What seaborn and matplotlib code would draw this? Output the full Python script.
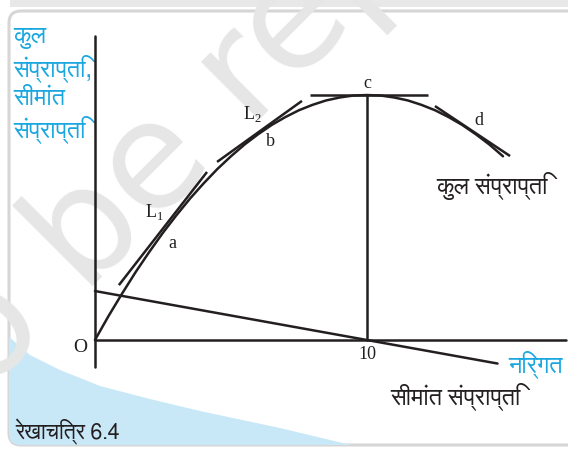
import matplotlib
matplotlib.use("Agg")
import numpy as np
import pandas as pd
import matplotlib.pyplot as plt
import seaborn as sns
from matplotlib import font_manager
from matplotlib.ft2font import FT2Font
from matplotlib.patches import FancyBboxPatch, Polygon

# total revenue curve (output, revenue)
output_q = [0, 0.5, 1, 1.5, 2, 2.5, 3, 3.5, 4, 4.5, 5, 5.5, 6, 6.5, 7, 7.5,
            8, 8.5, 9, 9.5, 10, 10.5, 11, 11.5, 12, 12.5, 13, 13.5, 14, 14.5, 15]
total_rev = [0, 9.8, 19, 27.8, 36, 43.8, 51, 57.8, 64, 69.8, 75, 79.8, 84, 87.8, 91, 93.8,
             96, 97.8, 99, 99.8, 100, 99.8, 99, 97.8, 96, 93.8, 91, 87.8, 84, 79.8, 75]

# marginal revenue line (two end points)
mr_q = [0, 14.8]
mr_val = [20, -9.6]

# tangent segments at a, b, c, d : (q0, v0) -> (q1, v1)
tangent_names = ['a', 'b', 'c', 'd']
tangent_q0 = [0.88, 4.49, 7.9, 12.5]
tangent_v0 = [22.4, 72.7, 100, 95.5]
tangent_q1 = [4.12, 7.61, 12.24, 15.26]
tangent_v1 = [68.6, 97.6, 100, 75.1]

peak_q = 10
peak_tr = 100

# find a font that has devanagari glyphs
deva = None
for f in font_manager.fontManager.ttflist:
    try:
        if 0x0915 in FT2Font(f.fname).get_charmap():
            deva = f.name
            if 'Sans' in deva:
                break
    except Exception:
        pass

sns.set_theme(style='white')
hindi = [deva, 'DejaVu Sans'] if deva else ['DejaVu Sans']
plt.rcParams['font.family'] = hindi
serif = 'Liberation Serif'
cyan = '#1aa7e0'
ink = '#231f20'

fig = plt.figure(figsize=(5.68, 4.52), dpi=100)

# background in pixel coords
bg = fig.add_axes([0, 0, 1, 1])
bg.set_xlim(0, 568)
bg.set_ylim(452, 0)
bg.axis('off')
bg.fill_between([10, 568], 0, 8, color='#e8e8e8', lw=0)
box = FancyBboxPatch((9, 12), 580, 434, boxstyle='round,pad=0,rounding_size=12',
                     facecolor='white', edgecolor='#d6d6d6', lw=2.2)
bg.add_patch(box)
blue = Polygon([(8, 337), (30, 356), (60, 371), (100, 387), (150, 400), (200, 412),
                (280, 429), (355, 447), (8, 447)], closed=True,
               facecolor='#c8e8f8', edgecolor='none')
bg.add_patch(blue)
blue.set_clip_path(box)
wm = bg.text(275, 45, 'not to be republished', rotation=45, rotation_mode='anchor',
             fontsize=108, color='#e6e6e6', ha='center', va='center',
             family='DejaVu Sans')
wm.set_clip_path(box)

bg.text(13, 26, 'कुल\nसंप्राप्ति,\nसीमांत\nसंप्राप्ति', color=cyan, fontsize=17,
        ha='left', va='top', linespacing=1.25)
bg.text(15, 432, 'रेखाचित्र 6.4', color=ink, fontsize=15.5,
        ha='left', va='center')

# main drawing in data coords
ax = fig.add_axes([0, 0, 1, 1])
ax.patch.set_alpha(0)
ax.set_xlim(-3.49, 17.39)
ax.set_ylim(-45.3, 139.2)
ax.axis('off')

lw = 1.8
ax.plot([0, 0], [-11, 124], color=ink, lw=lw)
ax.plot([0, 17.3], [0, 0], color=ink, lw=lw)

tr = pd.DataFrame({'q': output_q, 'tr': total_rev})
sns.lineplot(data=tr, x='q', y='tr', ax=ax, color=ink, lw=lw, sort=False)

mr = pd.DataFrame({'q': mr_q, 'mr': mr_val})
sns.lineplot(data=mr, x='q', y='mr', ax=ax, color=ink, lw=lw)

ax.plot([peak_q, peak_q], [0, peak_tr], color=ink, lw=lw)

for i in range(len(tangent_names)):
    ax.plot([tangent_q0[i], tangent_q1[i]], [tangent_v0[i], tangent_v1[i]],
            color=ink, lw=lw, solid_capstyle='butt')

ax.text(-0.55, -2.5, 'O', family=serif, fontsize=14, color=ink, ha='center', va='center')
ax.text(10, -5.4, '10', family=serif, fontsize=13, color=ink, ha='center', va='center')
ax.text(2.83, 40, 'a', family=serif, fontsize=13, color=ink, ha='center', va='center')
ax.text(2.2, 52.5, r'L$_\mathregular{1}$', family=serif, fontsize=13, color=ink, ha='center', va='center')
ax.text(6.47, 81.6, 'b', family=serif, fontsize=13, color=ink, ha='center', va='center')
ax.text(5.77, 92.5, r'L$_\mathregular{2}$', family=serif, fontsize=13, color=ink, ha='center', va='center')
ax.text(10, 105, 'c', family=serif, fontsize=13, color=ink, ha='center', va='center')
ax.text(14.12, 90.2, 'd', family=serif, fontsize=13, color=ink, ha='center', va='center')

ax.text(14.6, 63.3, 'कुल संप्राप्ति', fontsize=17, color=ink, ha='center', va='center')
ax.text(13.27, -22.9, 'सीमांत संप्राप्ति', fontsize=17, color=ink, ha='center', va='center')
ax.text(17.2, -9.8, 'निर्गत', fontsize=17, color=cyan, ha='right', va='center')

fig.savefig('out.png', dpi=100)
